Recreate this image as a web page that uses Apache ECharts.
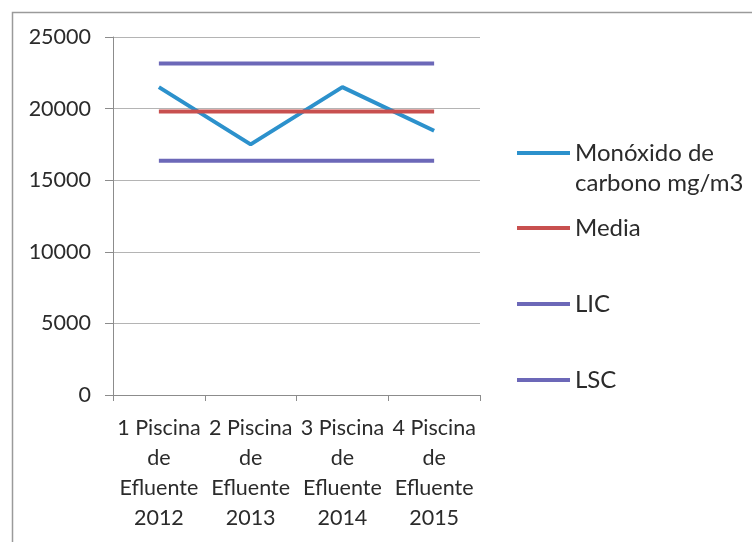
<!DOCTYPE html>
<html>
<head>
<meta charset="utf-8">
<script src="https://cdn.jsdelivr.net/npm/echarts@6/dist/echarts.min.js"></script>
<style>
  html, body { margin: 0; padding: 0; background: #fff; }
  #chart { width: 752px; height: 542px; }
</style>
</head>
<body>
<div id="chart"></div>
<script>
// Categories (pools by year)
const categories = [
  '1 Piscina\nde\nEfluente\n2012',
  '2 Piscina\nde\nEfluente\n2013',
  '3 Piscina\nde\nEfluente\n2014',
  '4 Piscina\nde\nEfluente\n2015'
];
// Carbon monoxide readings, mg/m3
const monoxido = [21500, 17500, 21500, 18450];
// Control chart mean and limits
const media = [19800, 19800, 19800, 19800];
const lic = [16350, 16350, 16350, 16350];
const lsc = [23150, 23150, 23150, 23150];
// Value axis ticks
const yMin = 0, yMax = 25000, yStep = 5000;

const FONT = 'Lato';
const TEXT = '#2b2b2b';
const BLUE = '#2C91CC';
const RED = '#C8504F';
const PURPLE = '#6C68B8';

const names = ['Monóxido de\ncarbono mg/m3', 'Media', 'LIC', 'LSC'];
const colors = [BLUE, RED, PURPLE, PURPLE];
const values = [monoxido, media, lic, lsc];
// each legend entry is placed on its own, like the stacked key on the right
const legendTops = [103, 208, 284, 360];

function legendFor(i) {
  const opt = {
    data: [names[i]],
    orient: 'vertical',
    left: 512,
    top: legendTops[i],
    icon: 'rect',
    itemWidth: 53,
    itemHeight: 4,
    itemGap: 0,
    selectedMode: false,
    textStyle: { fontFamily: FONT, fontSize: 24, color: TEXT, lineHeight: 30 }
  };
  // first line of a two-line name sits level with its key line
  if (i === 0) opt.formatter = (n) => '\n' + n;
  return opt;
}

const chart = echarts.init(document.getElementById('chart'), null, { renderer: 'canvas' });
chart.setOption({
  animation: false,
  backgroundColor: '#fff',
  graphic: [{
    type: 'rect',
    left: 10, top: 10,
    shape: { x: 0, y: 0, width: 800, height: 600 },
    style: { fill: 'none', stroke: '#9a9a9a', lineWidth: 1.5 },
    z: -1
  }],
  legend: [0, 1, 2, 3].map(legendFor),
  grid: { left: 113, right: 272, top: 37, bottom: 147, containLabel: false },
  xAxis: {
    type: 'category',
    data: categories,
    boundaryGap: true,
    axisLine: { lineStyle: { color: '#8c8c8c', width: 1 } },
    axisTick: { show: true, length: 6, lineStyle: { color: '#8c8c8c' } },
    axisLabel: {
      interval: 0, margin: 18,
      fontFamily: FONT, fontSize: 21.5, color: TEXT, lineHeight: 30, align: 'center'
    }
  },
  yAxis: {
    type: 'value',
    min: yMin, max: yMax, interval: yStep,
    axisLine: { show: true, lineStyle: { color: '#8c8c8c', width: 1 } },
    axisTick: { show: true, length: 8, lineStyle: { color: '#8c8c8c' } },
    splitLine: { lineStyle: { color: '#b4b4b4', width: 1 } },
    axisLabel: {
      margin: 22, fontFamily: FONT, fontSize: 21.5, color: TEXT,
      formatter: (v) => String(v)
    }
  },
  series: values.map((v, i) => ({
    name: names[i],
    type: 'line',
    data: v,
    symbol: 'none',
    color: colors[i],
    lineStyle: { width: 4, color: colors[i] }
  }))
});
</script>
</body>
</html>
